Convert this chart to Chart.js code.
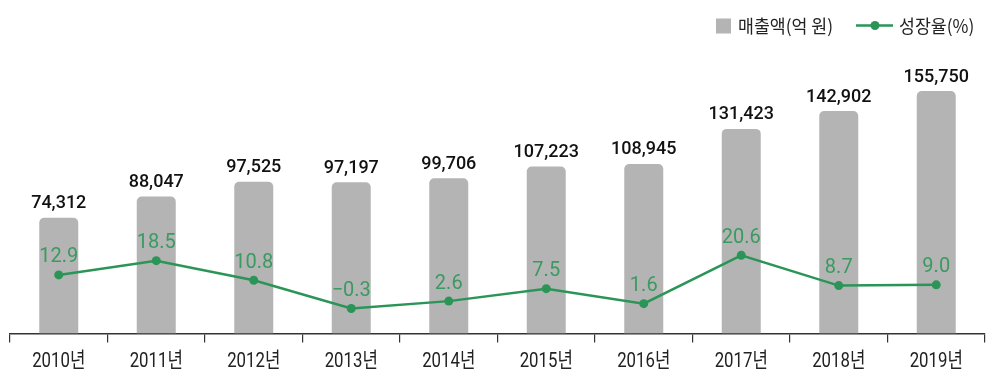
<!DOCTYPE html>
<html>
<head>
<meta charset="utf-8">
<script src="https://cdn.jsdelivr.net/npm/chart.js@4"></script>
<style>
html,body{margin:0;padding:0;background:#fff;}
#wrap{width:994px;height:381px;position:relative;}
</style>
</head>
<body>
<div id="wrap"><canvas id="c"></canvas></div>
<script>
const categories = ['2010년','2011년','2012년','2013년','2014년','2015년','2016년','2017년','2018년','2019년'];
const revenue = [74312, 88047, 97525, 97197, 99706, 107223, 108945, 131423, 142902, 155750];
const growth = [12.9, 18.5, 10.8, -0.3, 2.6, 7.5, 1.6, 20.6, 8.7, 9.0];
const seriesNames = ['매출액(억 원)', '성장율(%)'];

const FONT = 'Roboto, "Noto Sans CJK KR", sans-serif';
const KFONT = '"Noto Sans CJK KR", sans-serif';
const BAR_COLOR = '#b4b4b4';
const GREEN = '#2b9557';
const LABEL_GREEN = '#3a9a60';

function drawText(ctx, text, x, y, font, color, sx, align) {
  ctx.save();
  ctx.font = font;
  ctx.fillStyle = color;
  ctx.textAlign = align || 'center';
  ctx.translate(x, y);
  ctx.scale(sx, 1);
  ctx.fillText(text, 0, 0);
  ctx.restore();
}

const labelPlugin = {
  id: 'valueLabels',
  afterDatasetsDraw(chart) {
    const ctx = chart.ctx;
    ctx.save();
    ctx.textBaseline = 'alphabetic';
    const barMeta = chart.getDatasetMeta(0);
    barMeta.data.forEach((el, i) => {
      drawText(ctx, revenue[i].toLocaleString('en-US'), el.x, el.y - 9.5, '500 18px ' + FONT, '#111', 1, 'center');
    });
    const lineMeta = chart.getDatasetMeta(1);
    lineMeta.data.forEach((el, i) => {
      const v = growth[i];
      const s = (v < 0 ? '\u2212' : '') + Math.abs(v).toFixed(1);
      drawText(ctx, s, el.x, el.y - 12.5, '20px ' + FONT, LABEL_GREEN, 1, 'center');
    });
    const xs = chart.scales.x;
    categories.forEach((c, i) => {
      drawText(ctx, c, xs.getPixelForValue(i), 366.5, '21px ' + FONT, '#222', 0.8, 'center');
    });
    ctx.restore();
  }
};

const legendPlugin = {
  id: 'customLegend',
  afterDraw(chart) {
    const ctx = chart.ctx;
    ctx.save();
    ctx.textBaseline = 'middle';
    ctx.fillStyle = BAR_COLOR;
    ctx.fillRect(716, 18.5, 15, 15);
    drawText(ctx, seriesNames[0], 738, 26, '18px ' + KFONT, '#222', 0.96, 'left');
    ctx.strokeStyle = GREEN;
    ctx.lineWidth = 2.5;
    ctx.beginPath();
    ctx.moveTo(856, 25.5);
    ctx.lineTo(893, 25.5);
    ctx.stroke();
    ctx.fillStyle = GREEN;
    ctx.beginPath();
    ctx.arc(875, 25.5, 4.5, 0, Math.PI * 2);
    ctx.fill();
    drawText(ctx, seriesNames[1], 899, 26, '18px ' + KFONT, '#222', 0.96, 'left');
    ctx.restore();
  }
};

new Chart(document.getElementById('c'), {
  data: {
    labels: categories,
    datasets: [
      {
        type: 'bar',
        label: seriesNames[0],
        data: revenue,
        backgroundColor: BAR_COLOR,
        borderRadius: {topLeft: 5, topRight: 5, bottomLeft: 0, bottomRight: 0},
        borderSkipped: 'bottom',
        barPercentage: 0.4,
        categoryPercentage: 1.0,
        yAxisID: 'y',
        order: 2
      },
      {
        type: 'line',
        label: seriesNames[1],
        data: growth,
        borderColor: GREEN,
        backgroundColor: GREEN,
        borderWidth: 2.5,
        pointRadius: 4.5,
        pointBackgroundColor: GREEN,
        pointBorderWidth: 0,
        tension: 0,
        yAxisID: 'y1',
        order: 1
      }
    ]
  },
  options: {
    responsive: true,
    maintainAspectRatio: false,
    animation: false,
    layout: { padding: { top: 40, left: 10, right: 9, bottom: 8 } },
    plugins: { legend: { display: false }, tooltip: { enabled: false } },
    scales: {
      x: {
        offset: true,
        grid: { display: true, offset: true, drawOnChartArea: false, drawTicks: true, tickLength: 9, color: '#333', lineWidth: 1.2 },
        border: { display: true, color: '#333', width: 1.5 },
        ticks: { color: 'rgba(0,0,0,0)', font: { family: KFONT, size: 17 }, padding: 5 }
      },
      y: { display: false, min: 0, max: 188500 },
      y1: { display: false, min: -10.16, max: 105.2, position: 'right' }
    }
  },
  plugins: [labelPlugin, legendPlugin]
});
</script>
</body>
</html>
